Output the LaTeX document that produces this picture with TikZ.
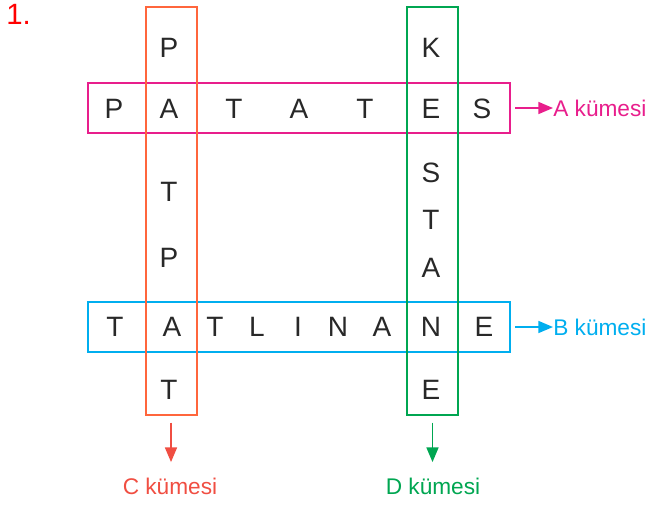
\documentclass[tikz,border=0pt]{standalone}
\usepackage{fontspec}
\setmainfont{Liberation Sans}
\usetikzlibrary{arrows.meta}

\definecolor{setA}{RGB}{232,30,140}
\definecolor{setB}{RGB}{0,174,239}
\definecolor{setC}{RGB}{255,102,60}
\definecolor{nameC}{RGB}{240,78,66}
\definecolor{setD}{RGB}{0,166,81}
\definecolor{letterGray}{RGB}{40,40,40}

\begin{document}
\begin{tikzpicture}[x=0.75pt, y=-0.75pt, >={Triangle[length=11pt, width=9pt]}]
	\tikzstyle{letter}=[inner sep=0pt, text=letterGray, font=\fontsize{21}{25}\selectfont]
	\tikzstyle{setbox}=[draw, line width=1.5pt, inner sep=0pt]
	\tikzstyle{rowbox}=[setbox, minimum width=316.5pt, minimum height=37.5pt]
	\tikzstyle{colbox}=[setbox, minimum width=38.25pt, minimum height=306pt]
	\tikzstyle{setname}=[inner sep=0pt, font=\fontsize{17}{20}\selectfont]
	\tikzstyle{setarrow}=[->, line width=1.2pt]
	\useasboundingbox (0,0) rectangle (652,504);

	\node[inner sep=0pt, anchor=base west, text=red, font=\fontsize{22}{26}\selectfont] at (6,24) (num) {1.};

	% the four sets
	\node[rowbox, draw=setA] at (299,108) (A) {};
	\node[rowbox, draw=setB] at (299,327) (B) {};
	\node[colbox, draw=setC] at (171,211) (C) {};
	\node[colbox, draw=setD] at (432.5,211) (D) {};

	% PATATES
	\foreach \l/\x [count=\i] in {P/114, A/169, T/234, A/299, T/365, E/431, S/482}
		\node[letter] at (\x,109) (a\i) {\l};
	% TATLINANE
	\foreach \l/\x [count=\i] in {T/115, A/172, T/215, L/257, I/298, N/338, A/382, N/431, E/484}
		\node[letter] at (\x,327) (b\i) {\l};
	% PATAPAT (shared letters already placed)
	\foreach \l/\y [count=\i] in {P/48, T/192, P/258, T/390}
		\node[letter] at (169,\y) (c\i) {\l};
	% KESTANE
	\foreach \l/\y [count=\i] in {K/48, S/173, T/220, A/268, E/390}
		\node[letter] at (431,\y) (d\i) {\l};

	\node[setname, anchor=west, text=setA] at (553,108) (nA) {A kümesi};
	\node[setname, anchor=west, text=setB] at (553,327) (nB) {B kümesi};
	\node[setname, text=nameC] at (170,486) (nC) {C kümesi};
	\node[setname, text=setD] at (433,486) (nD) {D kümesi};

	\draw[setarrow, setA, shorten <=3pt] (A.east) -- (nA.west);
	\draw[setarrow, setB, shorten <=3pt] (B.east) -- (nB.west);
	\draw[setarrow, nameC, shorten <=5pt, shorten >=11.5pt] (C.south) -- (C.south |- nC.north);
	\draw[setarrow, setD, shorten <=5pt, shorten >=11.5pt] (D.south) -- (D.south |- nD.north);
\end{tikzpicture}
\end{document}
